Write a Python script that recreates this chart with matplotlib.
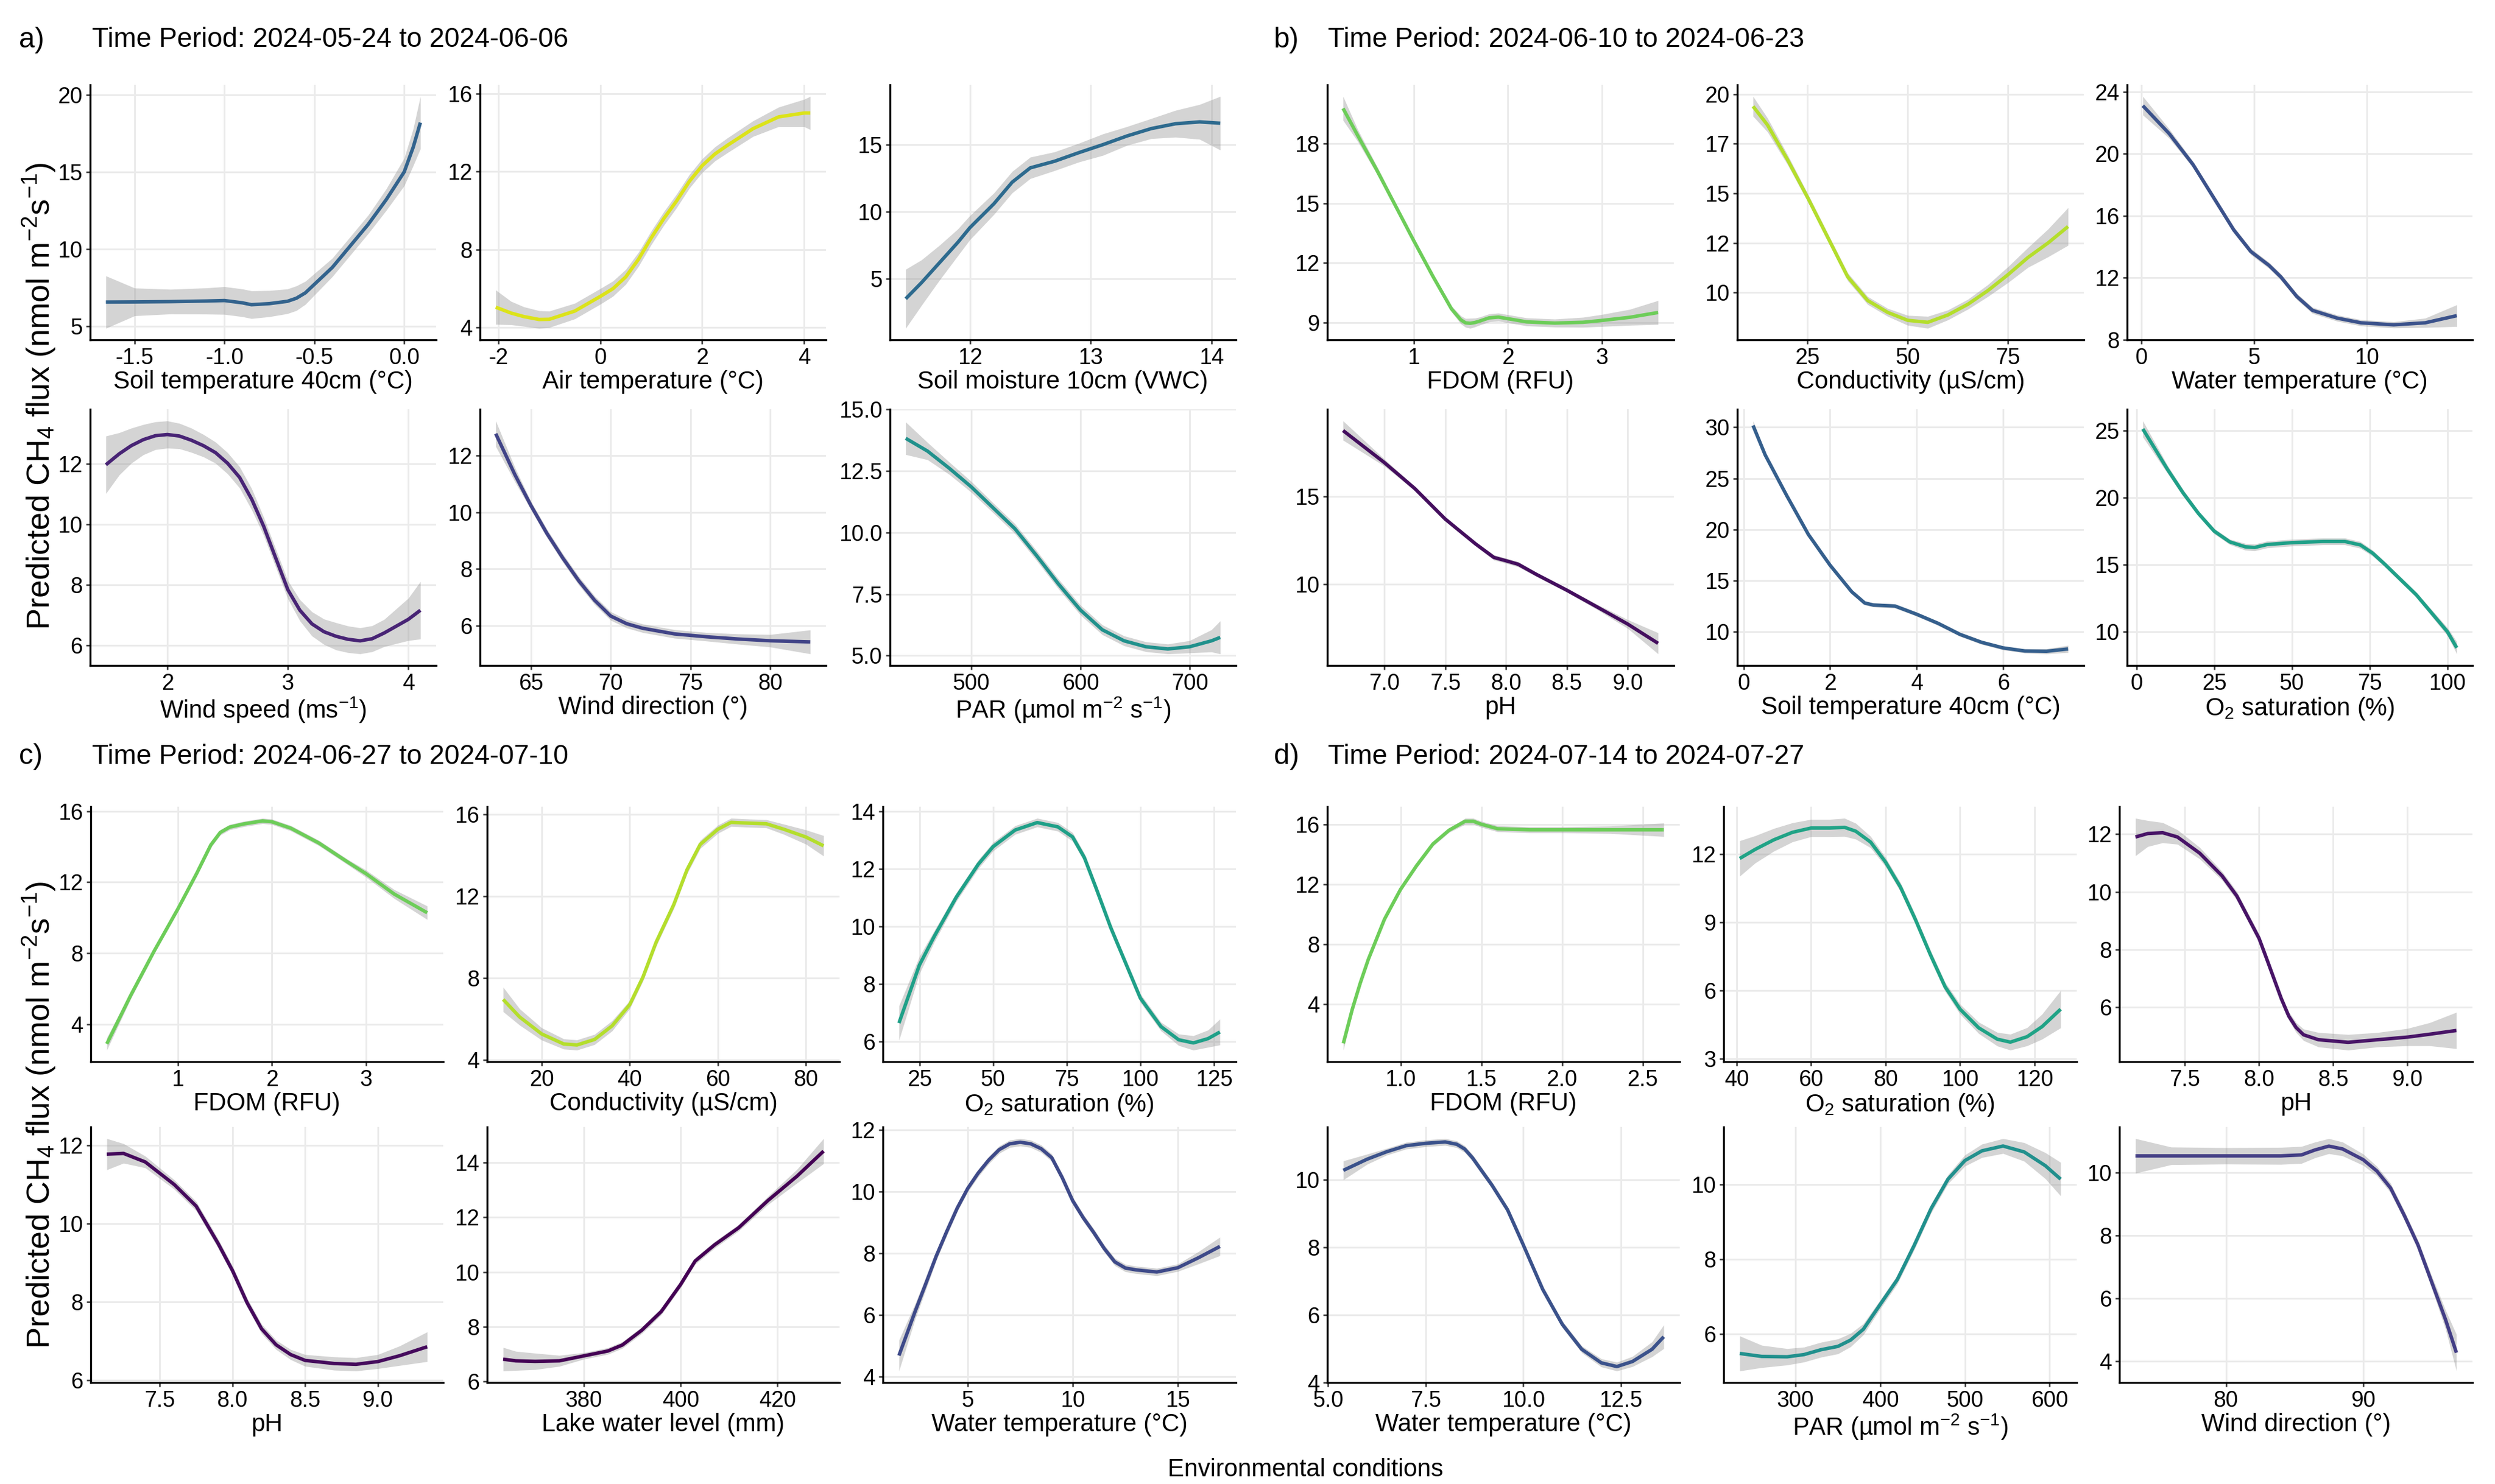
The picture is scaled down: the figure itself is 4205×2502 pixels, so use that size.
import matplotlib.pyplot as plt

plt.rcParams['font.family'] = ['Liberation Sans', 'DejaVu Sans']
plt.rcParams['mathtext.default'] = 'regular'

# values: x, smooth fit, half-width of the grey CI ribbon

# a) 2024-05-24 to 2024-06-06
a1_x = [-1.66, -1.5, -1.3, -1.1, -1.0, -0.9, -0.85, -0.75, -0.65, -0.6, -0.55, -0.5, -0.4, -0.3, -0.2, -0.1, 0.0, 0.05, 0.09]
a1_y = [6.55, 6.56, 6.58, 6.62, 6.65, 6.5, 6.38, 6.45, 6.6, 6.8, 7.15, 7.7, 8.8, 10.2, 11.6, 13.2, 15.0, 16.6, 18.2]
a1_ci = [1.7, 0.9, 0.8, 0.85, 0.9, 0.9, 0.9, 0.85, 0.8, 0.8, 0.75, 0.7, 0.6, 0.6, 0.6, 0.7, 0.9, 1.2, 1.7]

a2_x = [-2.05, -1.75, -1.5, -1.2, -1.0, -0.5, 0.0, 0.25, 0.5, 0.75, 1.0, 1.25, 1.5, 1.75, 2.0, 2.25, 2.5, 3.0, 3.5, 4.0, 4.12]
a2_y = [5.05, 4.75, 4.57, 4.42, 4.43, 4.85, 5.6, 6.0, 6.6, 7.5, 8.6, 9.6, 10.5, 11.5, 12.3, 12.9, 13.35, 14.2, 14.8, 15.0, 15.0]
a2_ci = [0.88, 0.6, 0.5, 0.45, 0.42, 0.4, 0.4, 0.39, 0.38, 0.36, 0.35, 0.35, 0.35, 0.35, 0.35, 0.36, 0.38, 0.4, 0.5, 0.7, 0.85]

a3_x = [11.47, 11.6, 11.75, 11.9, 12.0, 12.1, 12.2, 12.35, 12.5, 12.7, 12.9, 13.1, 13.3, 13.5, 13.7, 13.9, 14.07]
a3_y = [3.5, 4.7, 6.2, 7.7, 8.8, 9.7, 10.6, 12.2, 13.27, 13.76, 14.4, 15.0, 15.65, 16.2, 16.56, 16.7, 16.6]
a3_ci = [2.2, 1.7, 1.3, 1.0, 0.9, 0.85, 0.8, 0.8, 0.8, 0.7, 0.7, 0.8, 0.7, 0.75, 1.0, 1.3, 2.0]

a4_x = [1.49, 1.6, 1.7, 1.8, 1.9, 2.0, 2.1, 2.2, 2.3, 2.4, 2.5, 2.6, 2.7, 2.8, 2.9, 3.0, 3.1, 3.2, 3.3, 3.4, 3.5, 3.6, 3.7, 3.8, 4.0, 4.1]
a4_y = [11.97, 12.33, 12.6, 12.8, 12.93, 12.97, 12.92, 12.78, 12.6, 12.37, 12.02, 11.55, 10.83, 9.93, 8.88, 7.84, 7.16, 6.71, 6.45, 6.3, 6.2, 6.15, 6.22, 6.41, 6.86, 7.16]
a4_ci = [0.95, 0.7, 0.58, 0.5, 0.46, 0.45, 0.42, 0.4, 0.37, 0.35, 0.35, 0.35, 0.35, 0.3, 0.3, 0.3, 0.35, 0.4, 0.42, 0.45, 0.44, 0.43, 0.43, 0.45, 0.7, 0.95]

a5_x = [62.8, 64, 65, 66, 67, 68, 69, 70, 71, 72, 74, 76, 78, 80, 82.5]
a5_y = [12.76, 11.32, 10.24, 9.26, 8.39, 7.59, 6.9, 6.35, 6.08, 5.92, 5.72, 5.62, 5.54, 5.48, 5.44]
a5_ci = [0.45, 0.25, 0.15, 0.15, 0.15, 0.15, 0.15, 0.15, 0.15, 0.15, 0.15, 0.15, 0.18, 0.22, 0.42]

a6_x = [440, 460, 480, 500, 520, 540, 560, 580, 600, 620, 640, 660, 680, 700, 720, 728]
a6_y = [13.82, 13.3, 12.6, 11.85, 11.0, 10.15, 9.05, 7.9, 6.85, 6.05, 5.6, 5.36, 5.27, 5.36, 5.6, 5.74]
a6_ci = [0.66, 0.35, 0.25, 0.22, 0.2, 0.2, 0.2, 0.2, 0.2, 0.2, 0.2, 0.2, 0.2, 0.25, 0.45, 0.67]

# b) 2024-06-10 to 2024-06-23
b1_x = [0.245, 0.4, 0.6, 0.8, 1.0, 1.2, 1.4, 1.5, 1.55, 1.6, 1.65, 1.7, 1.8, 1.9, 2.0, 2.2, 2.5, 2.8, 3.0, 3.3, 3.6]
b1_y = [19.75, 18.4, 16.7, 14.9, 13.1, 11.35, 9.7, 9.15, 9.0, 8.98, 9.02, 9.09, 9.25, 9.29, 9.21, 9.05, 8.99, 9.03, 9.12, 9.28, 9.52]
b1_ci = [0.6, 0.3, 0.2, 0.15, 0.15, 0.15, 0.15, 0.2, 0.22, 0.25, 0.22, 0.2, 0.2, 0.2, 0.2, 0.2, 0.2, 0.25, 0.3, 0.4, 0.6]

b2_x = [11.4, 15, 20, 25, 30, 35, 40, 45, 50, 55, 60, 65, 70, 75, 80, 85, 90]
b2_y = [19.39, 18.45, 16.7, 14.8, 12.8, 10.8, 9.6, 9.0, 8.6, 8.5, 8.87, 9.41, 10.1, 10.9, 11.77, 12.5, 13.33]
b2_ci = [0.5, 0.35, 0.25, 0.2, 0.2, 0.2, 0.2, 0.2, 0.25, 0.3, 0.25, 0.25, 0.3, 0.4, 0.5, 0.7, 0.95]

b3_x = [0.07, 1.24, 2.3, 3.2, 4.1, 4.86, 5.67, 6.2, 6.9, 7.6, 8.7, 9.75, 11.2, 12.6, 14]
b3_y = [23.1, 21.3, 19.3, 17.2, 15.1, 13.7, 12.8, 12.05, 10.8, 9.9, 9.4, 9.1, 8.97, 9.1, 9.56]
b3_ci = [0.6, 0.3, 0.2, 0.2, 0.2, 0.2, 0.2, 0.2, 0.2, 0.2, 0.2, 0.2, 0.2, 0.3, 0.7]

b4_x = [6.66, 7.0, 7.25, 7.5, 7.75, 7.9, 8.0, 8.1, 8.25, 8.5, 8.75, 9.0, 9.25]
b4_y = [18.76, 16.93, 15.45, 13.71, 12.29, 11.52, 11.33, 11.13, 10.55, 9.65, 8.69, 7.72, 6.62]
b4_ci = [0.55, 0.2, 0.12, 0.12, 0.12, 0.15, 0.15, 0.15, 0.12, 0.12, 0.15, 0.25, 0.6]

b5_x = [0.22, 0.5, 1.0, 1.5, 2.0, 2.5, 2.8, 3.0, 3.5, 4.0, 4.5, 5.0, 5.5, 6.0, 6.5, 7.0, 7.5]
b5_y = [30.18, 27.3, 23.3, 19.5, 16.5, 13.9, 12.8, 12.6, 12.5, 11.7, 10.8, 9.73, 8.95, 8.4, 8.1, 8.07, 8.3]
b5_ci = [0.45, 0.25, 0.2, 0.2, 0.2, 0.2, 0.2, 0.2, 0.2, 0.2, 0.2, 0.2, 0.2, 0.2, 0.2, 0.25, 0.35]

b6_x = [2.05, 10, 15, 20, 25, 30, 35, 38, 42, 50, 60, 67, 72, 76, 80, 90, 100, 103]
b6_y = [25.12, 22.1, 20.35, 18.8, 17.5, 16.7, 16.33, 16.28, 16.5, 16.64, 16.73, 16.73, 16.47, 15.85, 15.0, 12.75, 10.0, 8.8]
b6_ci = [0.6, 0.3, 0.25, 0.2, 0.2, 0.2, 0.25, 0.25, 0.25, 0.25, 0.25, 0.25, 0.25, 0.22, 0.2, 0.2, 0.3, 0.45]

# c) 2024-06-27 to 2024-07-10
c1_x = [0.244, 0.5, 0.75, 1.0, 1.2, 1.35, 1.45, 1.55, 1.7, 1.9, 2.0, 2.2, 2.5, 2.8, 3.0, 3.3, 3.65]
c1_y = [2.9, 5.65, 8.15, 10.5, 12.5, 14.1, 14.8, 15.1, 15.28, 15.45, 15.4, 15.04, 14.2, 13.15, 12.48, 11.33, 10.28]
c1_ci = [0.35, 0.2, 0.15, 0.15, 0.15, 0.15, 0.15, 0.15, 0.15, 0.15, 0.15, 0.15, 0.15, 0.15, 0.2, 0.25, 0.38]

c2_x = [11.25, 15, 20, 25, 28, 32, 36, 40, 43, 46, 50, 53, 56, 60, 63, 67, 71, 75, 80, 84]
c2_y = [6.95, 6.09, 5.26, 4.77, 4.72, 4.99, 5.66, 6.7, 8.05, 9.76, 11.6, 13.3, 14.54, 15.28, 15.62, 15.58, 15.55, 15.28, 14.9, 14.47]
c2_ci = [0.6, 0.4, 0.3, 0.25, 0.25, 0.25, 0.25, 0.2, 0.2, 0.2, 0.2, 0.2, 0.2, 0.2, 0.2, 0.2, 0.2, 0.25, 0.35, 0.5]

c3_x = [18.05, 25, 30, 37.5, 45, 50, 57.5, 65, 72, 77, 81, 85, 90, 95, 100, 107, 113, 118, 123, 127]
c3_y = [6.64, 8.66, 9.65, 11.02, 12.17, 12.78, 13.36, 13.62, 13.47, 13.12, 12.4, 11.33, 9.95, 8.73, 7.51, 6.52, 6.06, 5.95, 6.1, 6.33]
c3_ci = [0.6, 0.3, 0.2, 0.15, 0.15, 0.15, 0.15, 0.15, 0.15, 0.15, 0.15, 0.15, 0.15, 0.15, 0.15, 0.15, 0.2, 0.25, 0.3, 0.45]

c4_x = [7.135, 7.25, 7.4, 7.6, 7.75, 7.9, 8.0, 8.1, 8.2, 8.3, 8.4, 8.5, 8.7, 8.85, 9.0, 9.15, 9.34]
c4_y = [11.78, 11.8, 11.58, 11.0, 10.45, 9.5, 8.8, 7.98, 7.31, 6.9, 6.65, 6.5, 6.42, 6.4, 6.47, 6.62, 6.85]
c4_ci = [0.4, 0.25, 0.15, 0.12, 0.12, 0.12, 0.12, 0.12, 0.12, 0.12, 0.13, 0.15, 0.17, 0.17, 0.18, 0.25, 0.38]

c5_x = [363.4, 366, 370, 375, 380, 385, 388, 392, 396, 400, 403, 407, 412, 418, 424, 429.5]
c5_y = [6.81, 6.75, 6.73, 6.75, 6.93, 7.11, 7.33, 7.87, 8.55, 9.54, 10.4, 10.99, 11.62, 12.61, 13.5, 14.42]
c5_ci = [0.43, 0.35, 0.3, 0.2, 0.12, 0.12, 0.12, 0.12, 0.12, 0.12, 0.12, 0.12, 0.12, 0.15, 0.25, 0.46]

c6_x = [1.73, 2.5, 3.0, 3.5, 4.0, 4.5, 5.0, 5.5, 6.0, 6.5, 7.0, 7.5, 8.0, 8.5, 9.0, 9.5, 10.0, 10.5, 11.0, 11.5, 12.0, 12.5, 13, 14, 15, 16, 17]
c6_y = [4.68, 6.11, 7.0, 7.9, 8.7, 9.46, 10.1, 10.6, 11.02, 11.36, 11.55, 11.6, 11.55, 11.39, 11.1, 10.45, 9.7, 9.15, 8.67, 8.15, 7.72, 7.52, 7.46, 7.39, 7.53, 7.86, 8.22]
c6_ci = [0.5, 0.25, 0.2, 0.15, 0.14, 0.12, 0.12, 0.12, 0.12, 0.12, 0.12, 0.12, 0.12, 0.12, 0.12, 0.12, 0.12, 0.12, 0.12, 0.12, 0.12, 0.12, 0.12, 0.12, 0.12, 0.2, 0.3]

# d) 2024-07-14 to 2024-07-27
d1_x = [0.645, 0.7, 0.75, 0.8, 0.9, 1.0, 1.1, 1.2, 1.3, 1.4, 1.45, 1.5, 1.6, 1.8, 2.0, 2.3, 2.63]
d1_y = [1.37, 3.63, 5.4, 6.98, 9.66, 11.66, 13.25, 14.68, 15.6, 16.2, 16.2, 16.0, 15.7, 15.63, 15.63, 15.63, 15.63]
d1_ci = [0.45, 0.3, 0.25, 0.2, 0.15, 0.15, 0.15, 0.15, 0.15, 0.2, 0.2, 0.2, 0.2, 0.2, 0.2, 0.25, 0.45]

d2_x = [40.85, 45, 50, 55, 60, 65, 69, 72, 76, 80, 84, 88, 92, 96, 100, 105, 110, 113.5, 118, 122, 127]
d2_y = [11.8, 12.2, 12.62, 12.95, 13.14, 13.14, 13.17, 13.0, 12.52, 11.64, 10.54, 9.12, 7.58, 6.15, 5.17, 4.35, 3.85, 3.72, 3.96, 4.4, 5.17]
d2_ci = [0.78, 0.6, 0.5, 0.42, 0.38, 0.38, 0.4, 0.35, 0.25, 0.2, 0.2, 0.2, 0.2, 0.2, 0.22, 0.25, 0.3, 0.35, 0.4, 0.55, 0.82]

d3_x = [7.167, 7.25, 7.35, 7.45, 7.6, 7.75, 7.85, 8.0, 8.05, 8.1, 8.15, 8.2, 8.25, 8.3, 8.4, 8.6, 8.8, 9.0, 9.15, 9.33]
d3_y = [11.9, 12.02, 12.05, 11.9, 11.34, 10.56, 9.86, 8.39, 7.7, 7.0, 6.3, 5.7, 5.3, 5.05, 4.88, 4.79, 4.88, 4.97, 5.07, 5.2]
d3_ci = [0.65, 0.45, 0.35, 0.25, 0.2, 0.15, 0.15, 0.15, 0.15, 0.15, 0.15, 0.15, 0.17, 0.2, 0.25, 0.27, 0.25, 0.3, 0.4, 0.63]

d4_x = [5.39, 6.0, 6.5, 7.0, 7.5, 8.0, 8.3, 8.5, 8.7, 9.2, 9.6, 10.0, 10.5, 11.0, 11.5, 12.0, 12.4, 12.8, 13.3, 13.6]
d4_y = [10.27, 10.6, 10.82, 11.0, 11.07, 11.11, 11.04, 10.9, 10.64, 9.83, 9.1, 8.07, 6.75, 5.72, 4.98, 4.58, 4.47, 4.62, 4.98, 5.35]
d4_ci = [0.28, 0.15, 0.1, 0.1, 0.1, 0.1, 0.1, 0.1, 0.1, 0.1, 0.1, 0.1, 0.1, 0.1, 0.1, 0.12, 0.13, 0.15, 0.22, 0.35]

d5_x = [234, 260, 290, 310, 330, 350, 365, 380, 400, 420, 440, 460, 480, 500, 520, 545, 570, 595, 613]
d5_y = [5.47, 5.39, 5.38, 5.44, 5.57, 5.66, 5.83, 6.12, 6.79, 7.45, 8.37, 9.36, 10.15, 10.65, 10.91, 11.04, 10.88, 10.51, 10.15]
d5_ci = [0.47, 0.3, 0.22, 0.2, 0.2, 0.2, 0.18, 0.15, 0.12, 0.12, 0.12, 0.12, 0.12, 0.15, 0.18, 0.2, 0.25, 0.35, 0.45]

d6_x = [73.4, 76, 80, 84, 85.5, 86.5, 87.5, 88.5, 90, 91, 92, 93, 94, 95, 96, 96.8]
d6_y = [10.53, 10.53, 10.53, 10.53, 10.56, 10.72, 10.84, 10.75, 10.41, 10.05, 9.51, 8.64, 7.7, 6.52, 5.34, 4.28]
d6_ci = [0.55, 0.28, 0.26, 0.27, 0.27, 0.25, 0.24, 0.22, 0.18, 0.15, 0.15, 0.15, 0.15, 0.2, 0.3, 0.58]

periods = ["2024-05-24 to 2024-06-06", "2024-06-10 to 2024-06-23",
           "2024-06-27 to 2024-07-10", "2024-07-14 to 2024-07-27"]
tags = ["a)", "b)", "c)", "d)"]

W, H = 4205, 2502
fig = plt.figure(figsize=(W / 300, H / 300), dpi=300)


def box(l, t, r, b):
    return [l / W, 1 - b / H, (r - l) / W, (b - t) / H]


def smooth_panel(rect, x, y, ci, color, xlabel, xt, xtl, yt, ytl):
    ax = fig.add_axes(box(*rect))
    lo = [v - c for v, c in zip(y, ci)]
    hi = [v + c for v, c in zip(y, ci)]
    ax.fill_between(x, lo, hi, color='#999999', alpha=0.42, linewidth=0, zorder=2)
    ax.plot(x, y, color=color, lw=1.4, zorder=3, solid_capstyle='butt', solid_joinstyle='round')
    ax.set_xticks(xt, xtl)
    ax.set_yticks(yt, ytl)
    ax.set_axisbelow(True)
    ax.grid(True, color='#EBEBEB', lw=0.7)
    for s in ('top', 'right'):
        ax.spines[s].set_visible(False)
    for s in ('left', 'bottom'):
        ax.spines[s].set_linewidth(0.8)
    ax.tick_params(length=1.6, width=0.6, color='#333333', labelsize=9, pad=1.5, labelcolor='black')
    ax.set_xlabel(xlabel, fontsize=10, labelpad=0.5)
    return ax


rows_ab = [(143, 573), (690, 1122)]
rows_cd = [(1360, 1790), (1900, 2331)]
cols_a = [(152, 735), (809, 1392), (1500, 2083)]
cols_b = [(2237, 2821), (2928, 3512), (3585, 4167)]
cols_c = [(153, 747), (821, 1415), (1488, 2083)]
cols_d = [(2237, 2831), (2905, 3500), (3572, 4167)]


def cell(cols, rows, i):
    (l, r), (t, b) = cols[i % 3], rows[i // 3]
    return (l, t, r, b)


degC = 'Soil temperature 40cm (°C)'
o2 = 'O$_2$ saturation (%)'
par = 'PAR (µmol m$^{-2}$ s$^{-1}$)'

panel_a = [
    (a1_x, a1_y, a1_ci, '#33638D', degC, [-1.5, -1.0, -0.5, 0.0], ['-1.5', '-1.0', '-0.5', '0.0'], [5, 10, 15, 20], ['5', '10', '15', '20']),
    (a2_x, a2_y, a2_ci, '#DCE319', 'Air temperature (°C)', [-2, 0, 2, 4], ['-2', '0', '2', '4'], [4, 8, 12, 16], ['4', '8', '12', '16']),
    (a3_x, a3_y, a3_ci, '#2D6A8E', 'Soil moisture 10cm (VWC)', [12, 13, 14], ['12', '13', '14'], [5, 10, 15], ['5', '10', '15']),
    (a4_x, a4_y, a4_ci, '#482475', 'Wind speed (ms$^{-1}$)', [2, 3, 4], ['2', '3', '4'], [6, 8, 10, 12], ['6', '8', '10', '12']),
    (a5_x, a5_y, a5_ci, '#414487', 'Wind direction (°)', [65, 70, 75, 80], ['65', '70', '75', '80'], [6, 8, 10, 12], ['6', '8', '10', '12']),
    (a6_x, a6_y, a6_ci, '#21918C', par, [500, 600, 700], ['500', '600', '700'], [5, 7.5, 10, 12.5, 15], ['5.0', '7.5', '10.0', '12.5', '15.0']),
]
panel_b = [
    (b1_x, b1_y, b1_ci, '#6DCD59', 'FDOM (RFU)', [1, 2, 3], ['1', '2', '3'], [9, 12, 15, 18], ['9', '12', '15', '18']),
    (b2_x, b2_y, b2_ci, '#B4DE2C', 'Conductivity (µS/cm)', [25, 50, 75], ['25', '50', '75'], [10, 12.5, 15, 17.5, 20], ['10', '12', '15', '17', '20']),
    (b3_x, b3_y, b3_ci, '#3B528B', 'Water temperature (°C)', [0, 5, 10], ['0', '5', '10'], [8, 12, 16, 20, 24], ['8', '12', '16', '20', '24']),
    (b4_x, b4_y, b4_ci, '#440E5E', 'pH', [7.0, 7.5, 8.0, 8.5, 9.0], ['7.0', '7.5', '8.0', '8.5', '9.0'], [10, 15], ['10', '15']),
    (b5_x, b5_y, b5_ci, '#355F8D', degC, [0, 2, 4, 6], ['0', '2', '4', '6'], [10, 15, 20, 25, 30], ['10', '15', '20', '25', '30']),
    (b6_x, b6_y, b6_ci, '#1FA088', o2, [0, 25, 50, 75, 100], ['0', '25', '50', '75', '100'], [10, 15, 20, 25], ['10', '15', '20', '25']),
]
panel_c = [
    (c1_x, c1_y, c1_ci, '#6DCD59', 'FDOM (RFU)', [1, 2, 3], ['1', '2', '3'], [4, 8, 12, 16], ['4', '8', '12', '16']),
    (c2_x, c2_y, c2_ci, '#B4DE2C', 'Conductivity (µS/cm)', [20, 40, 60, 80], ['20', '40', '60', '80'], [4, 8, 12, 16], ['4', '8', '12', '16']),
    (c3_x, c3_y, c3_ci, '#1FA088', o2, [25, 50, 75, 100, 125], ['25', '50', '75', '100', '125'], [6, 8, 10, 12, 14], ['6', '8', '10', '12', '14']),
    (c4_x, c4_y, c4_ci, '#450A5C', 'pH', [7.5, 8.0, 8.5, 9.0], ['7.5', '8.0', '8.5', '9.0'], [6, 8, 10, 12], ['6', '8', '10', '12']),
    (c5_x, c5_y, c5_ci, '#440154', 'Lake water level (mm)', [380, 400, 420], ['380', '400', '420'], [6, 8, 10, 12, 14], ['6', '8', '10', '12', '14']),
    (c6_x, c6_y, c6_ci, '#3E4A89', 'Water temperature (°C)', [5, 10, 15], ['5', '10', '15'], [4, 6, 8, 10, 12], ['4', '6', '8', '10', '12']),
]
panel_d = [
    (d1_x, d1_y, d1_ci, '#6DCD59', 'FDOM (RFU)', [1.0, 1.5, 2.0, 2.5], ['1.0', '1.5', '2.0', '2.5'], [4, 8, 12, 16], ['4', '8', '12', '16']),
    (d2_x, d2_y, d2_ci, '#20A386', o2, [40, 60, 80, 100, 120], ['40', '60', '80', '100', '120'], [3, 6, 9, 12], ['3', '6', '9', '12']),
    (d3_x, d3_y, d3_ci, '#481467', 'pH', [7.5, 8.0, 8.5, 9.0], ['7.5', '8.0', '8.5', '9.0'], [6, 8, 10, 12], ['6', '8', '10', '12']),
    (d4_x, d4_y, d4_ci, '#3B528B', 'Water temperature (°C)', [5.0, 7.5, 10.0, 12.5], ['5.0', '7.5', '10.0', '12.5'], [4, 6, 8, 10], ['4', '6', '8', '10']),
    (d5_x, d5_y, d5_ci, '#21908D', par, [300, 400, 500, 600], ['300', '400', '500', '600'], [6, 8, 10], ['6', '8', '10']),
    (d6_x, d6_y, d6_ci, '#433E85', 'Wind direction (°)', [80, 90], ['80', '90'], [4, 6, 8, 10], ['4', '6', '8', '10']),
]

layout = [(panel_a, cols_a, rows_ab), (panel_b, cols_b, rows_ab),
          (panel_c, cols_c, rows_cd), (panel_d, cols_d, rows_cd)]
for panel, cols, rows in layout:
    for i, spec in enumerate(panel):
        smooth_panel(cell(cols, rows, i), *spec)

# panel tags and titles
head_pos = [(32, 155, 67), (2147, 2238, 67), (32, 155, 1276), (2147, 2238, 1276)]
for tag, period, (xt, xh, yh) in zip(tags, periods, head_pos):
    fig.text(xt / W, 1 - yh / H, tag, fontsize=11.5, va='center', ha='left')
    fig.text(xh / W, 1 - yh / H, 'Time Period: ' + period, fontsize=11, va='center', ha='left')

ylab = 'Predicted CH$_4$ flux (nmol m$^{-2}$s$^{-1}$)'
for yc in (668, 1880):
    fig.text(66 / W, 1 - yc / H, ylab, rotation=90, fontsize=13, va='center', ha='center')

fig.text(2200 / W, 1 - 2478 / H, 'Environmental conditions', fontsize=10, va='center', ha='center')

fig.savefig('out.png', dpi=300, facecolor='white')
